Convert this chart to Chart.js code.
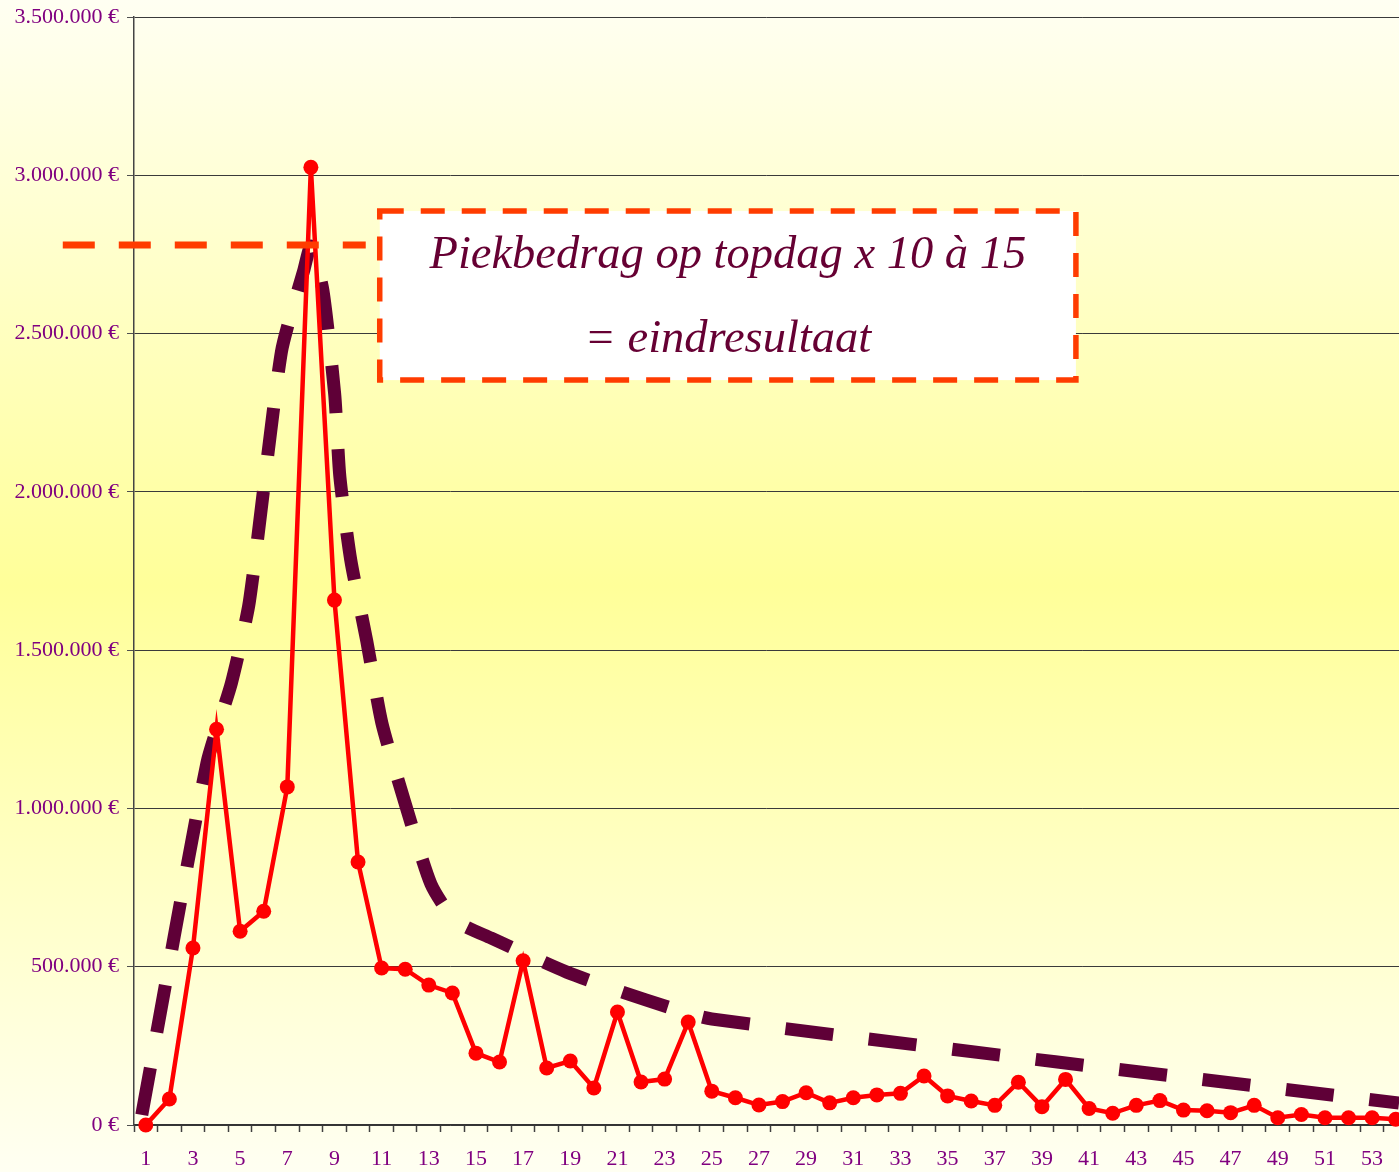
<!DOCTYPE html>
<html><head><meta charset="utf-8">
<script src="https://cdn.jsdelivr.net/npm/chart.js@4.4.1/dist/chart.umd.min.js"></script>
<style>
html,body{margin:0;padding:0;width:1399px;height:1172px;overflow:hidden;background:#fffff0;}
canvas{display:block;}
</style></head><body>
<canvas id="c" width="1399" height="1172"></canvas>
<script>
// ---- data ----
const days = [1,2,3,4,5,6,7,8,9,10,11,12,13,14,15,16,17,18,19,20,21,22,23,24,25,26,27,28,29,30,31,32,33,34,35,36,37,38,39,40,41,42,43,44,45,46,47,48,49,50,51,52,53,54];
const revenue = [0,82000,559000,1250000,612000,675000,1068000,3025000,1658000,831000,
  496000,492000,442000,417000,227000,199000,519000,180000,202000,117000,
  357000,136000,145000,325000,107000,86000,63000,74000,102000,70000,
  86000,95000,100000,155000,92000,76000,62000,135000,58000,144000,
  52000,37000,62000,77000,47000,45000,39000,62000,23000,33000,
  23000,23000,23000,18000];
const trendDays = [0.83,3.59,4.63,5.39,6.75,7.70,8.0,8.51,9.01,9.23,9.69,10.37,11.01,11.98,13.09,14.10,15.63,18.85,22.2,25.0,54.14];
const trendValues = [32000,1143000,1396000,1652000,2442000,2700000,2776000,2637000,2309000,2047000,1785000,1529000,1270000,1020000,761000,647000,591000,483000,395000,335000,69000];
const yTickValues = [0,500000,1000000,1500000,2000000,2500000,3000000,3500000];
const xTickLabels = [1,3,5,7,9,11,13,15,17,19,21,23,25,27,29,31,33,35,37,39,41,43,45,47,49,51,53];
const peakValue = 2780000;
const calloutLines = ["Piekbedrag op topdag x 10 à 15", "= eindresultaat"];

// ---- layout / style (not data) ----
const callout = {dayFrom: 10.92, dayTo: 40.44, top: 2887000, bottom: 2353000, lineFromDay: -2.52};
const TICK_FONT = {family: '"Liberation Serif", "Times New Roman", serif', size: 22};
const PURPLE = '#800080';

function fmtEuro(v){
  return String(Math.round(v)).replace(/\B(?=(\d{3})+(?!\d))/g, '.') + ' €';
}

const bgPlugin = {
  id: 'bg',
  beforeDraw(chart){
    const {ctx, width, height} = chart;
    const g = ctx.createLinearGradient(0, 0, 0, height);
    g.addColorStop(0, '#fffff2');
    g.addColorStop(0.5, '#ffff99');
    g.addColorStop(1, '#fffff2');
    ctx.save();
    ctx.fillStyle = g;
    ctx.fillRect(0, 0, width, height);
    ctx.restore();
  }
};

const calloutPlugin = {
  id: 'callout',
  afterDatasetsDraw(chart){
    const {ctx, scales:{x, y}} = chart;
    const x0 = x.getPixelForValue(callout.dayFrom), x1 = x.getPixelForValue(callout.dayTo);
    const y0 = y.getPixelForValue(callout.top), y1 = y.getPixelForValue(callout.bottom);
    const yp = y.getPixelForValue(peakValue);
    ctx.save();
    ctx.strokeStyle = '#ff3c00';
    ctx.lineWidth = 7;
    ctx.setLineDash([32, 24]);
    ctx.beginPath();
    ctx.moveTo(x.getPixelForValue(callout.lineFromDay), yp);
    ctx.lineTo(x0 - 14, yp);
    ctx.stroke();
    ctx.setLineDash([]);
    ctx.fillStyle = '#ffffff';
    ctx.fillRect(x0, y0, x1 - x0, y1 - y0);
    ctx.strokeStyle = '#ff3c00';
    ctx.lineWidth = 5.5;
    ctx.setLineDash([24, 17]);
    ctx.strokeRect(x0, y0, x1 - x0, y1 - y0);
    ctx.setLineDash([]);
    const fam = '"Liberation Serif", "Times New Roman", serif';
    ctx.font = 'italic 50px ' + fam;
    const w = ctx.measureText(calloutLines[0]).width;
    const size = Math.min(56, 50 * 597 / w);
    ctx.font = 'italic ' + size.toFixed(1) + 'px ' + fam;
    ctx.fillStyle = '#660033';
    ctx.textAlign = 'center';
    ctx.textBaseline = 'alphabetic';
    const cx = (x0 + x1) / 2, h = y1 - y0;
    ctx.fillText(calloutLines[0], cx, y0 + h * 0.337);
    ctx.fillText(calloutLines[1], cx, y0 + h * 0.834);
    ctx.restore();
  }
};

new Chart(document.getElementById('c'), {
  type: 'line',
  data: {
    datasets: [
      {
        label: 'Bedrag per dag',
        data: days.map((d, i) => ({x: d, y: revenue[i]})),
        borderColor: '#ff0000',
        backgroundColor: '#ff0000',
        borderWidth: 4.5,
        pointRadius: 7.5,
        pointBorderWidth: 0,
        pointBackgroundColor: '#ff0000',
        tension: 0,
        clip: false,
        order: 1
      },
      {
        label: 'Trend',
        data: trendDays.map((d, i) => ({x: d, y: trendValues[i]})),
        borderColor: '#5f0037',
        borderWidth: 13,
        borderDash: [48, 36],
        borderCapStyle: 'butt',
        borderJoinStyle: 'miter',
        pointRadius: 0,
        tension: 0.2,
        clip: false,
        order: 2
      }
    ]
  },
  options: {
    responsive: false,
    animation: false,
    devicePixelRatio: 1,
    layout: {autoPadding: false, padding: {top: 17, right: 0, left: 0, bottom: 0}},
    plugins: {legend: {display: false}, tooltip: {enabled: false}},
    scales: {
      x: {
        type: 'linear',
        min: 0.5,
        max: 54.14,
        afterFit(s){ s.height = 47; s.paddingLeft = 0; s.paddingRight = 0; },
        grid: {
          drawOnChartArea: false,
          drawTicks: true,
          tickLength: 7,
          tickWidth: 1.5,
          tickColor: (c) => (c.tick && Math.abs((c.tick.value % 1) - 0.5) < 1e-6) ? '#404040' : 'rgba(0,0,0,0)'
        },
        border: {color: '#333333', width: 1.5},
        ticks: {
          stepSize: 0.5,
          autoSkip: false,
          maxRotation: 0,
          includeBounds: false,
          padding: 14,
          color: PURPLE,
          font: TICK_FONT,
          callback: (v) => xTickLabels.includes(v) ? String(v) : ''
        }
      },
      y: {
        min: 0,
        max: 3500000,
        afterFit(s){ s.width = 134; s.paddingTop = 0; s.paddingBottom = 0; },
        afterBuildTicks(s){ s.ticks = yTickValues.map(v => ({value: v})); },
        grid: {color: '#3a3a3a', lineWidth: 1, tickLength: 7, tickColor: '#505050'},
        border: {color: '#444444', width: 1.5},
        ticks: {
          padding: 8,
          color: PURPLE,
          font: TICK_FONT,
          callback: (v) => fmtEuro(v)
        }
      }
    }
  },
  plugins: [bgPlugin, calloutPlugin]
});
</script>
</body></html>
